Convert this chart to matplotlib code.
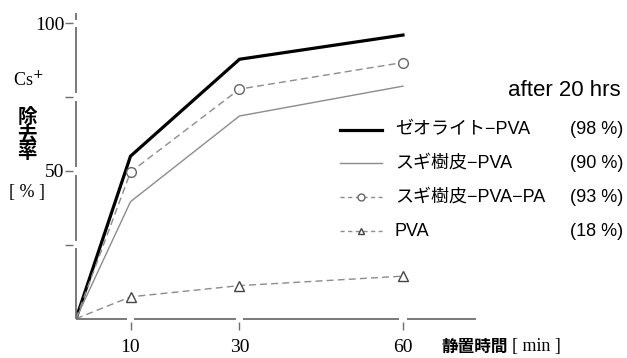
import matplotlib
matplotlib.use("Agg")
import matplotlib.pyplot as plt
from matplotlib.lines import Line2D

# ── Data ─────────────────────────────────────────────────────────────────────
minutes = [0, 10, 30, 60]
zeolite_pva = [0, 55.0, 87.8, 96.0]
sugi_pva = [0, 39.6, 68.6, 78.7]
sugi_pva_pa = [0, 49.6, 77.7, 86.7]
pva = [0, 7.4, 11.2, 14.4]

series_names = ["ゼオライト−PVA", "スギ樹皮−PVA", "スギ樹皮−PVA−PA", "PVA"]
after_20h = [98, 90, 93, 18]

x_ticks = [10, 30, 60]
y_ticks = [25, 50, 75, 100]
y_tick_labels = ["", "50", "", "100"]

# ── Layout (pixels) ──────────────────────────────────────────────────────────
W, H, DPI = 627, 358, 100
X0, Y0 = 76, 318.7          # axis origin
PX_PER_MIN = 5.45
PX_PER_PCT = 2.955
X_MAX = 73.4
Y_MAX = 103.4

SERIF = "Liberation Serif"
SANS = ["Liberation Sans", "Noto Sans CJK JP"]
CJK = "Noto Sans CJK JP"
AXIS_GRAY = "#6e6e6e"
LINE_GRAY = "#8c8c8c"


def fpos(x, y):
    """pixel position -> figure fraction"""
    return x / W, 1 - y / H


fig = plt.figure(figsize=(W / DPI, H / DPI), dpi=DPI)
ax = fig.add_axes([X0 / W, (H - Y0) / H,
                   X_MAX * PX_PER_MIN / W, Y_MAX * PX_PER_PCT / H])
ax.set_xlim(0, X_MAX)
ax.set_ylim(0, Y_MAX)

# curves
ax.plot(minutes, zeolite_pva, color="black", lw=2.3, solid_joinstyle="miter")
ax.plot(minutes, sugi_pva, color=LINE_GRAY, lw=1.0)
ax.plot(minutes, sugi_pva_pa, color=LINE_GRAY, lw=1.0, ls=(0, (5, 3)),
        marker="o", markevery=[1, 2, 3], ms=7, mfc="white", mec="#666666", mew=1.0)
ax.plot(minutes, pva, color=LINE_GRAY, lw=1.0, ls=(0, (5, 3)),
        marker="^", markevery=[1, 2, 3], ms=7, mfc="white", mec="#444444", mew=1.0)

# broken axis lines: gaps where ticks sit
for s in ax.spines.values():
    s.set_visible(False)
ax.spines["left"].set_position(("outward", 2.5))
ax.spines["bottom"].set_position(("outward", 2.5))

gx = 3.6 / PX_PER_MIN
gy = 3.6 / PX_PER_PCT
xs = [0] + [v for t in x_ticks for v in (t - gx, t + gx)] + [X_MAX]
for a, b in zip(xs[0::2], xs[1::2]):
    ax.plot([a, b], [0, 0], color=AXIS_GRAY, lw=1.3, clip_on=False,
            solid_capstyle="butt")
ys = [0] + [v for t in y_ticks for v in (t - gy, t + gy)] + [Y_MAX]
for a, b in zip(ys[0::2], ys[1::2]):
    ax.plot([0, 0], [a, b], color=AXIS_GRAY, lw=1.3, clip_on=False,
            solid_capstyle="butt")

ax.set_xticks(x_ticks)
ax.set_xticklabels([str(t) for t in x_ticks], fontfamily=SERIF, fontsize=14)
ax.set_yticks(y_ticks)
ax.set_yticklabels(y_tick_labels, fontfamily=SERIF, fontsize=14)
ax.tick_params(axis="x", direction="out", length=5.8, width=1.0,
               color=AXIS_GRAY, pad=6.5)
ax.tick_params(axis="y", direction="out", length=5.5, width=1.0,
               color=AXIS_GRAY, pad=0.5)

# y-axis caption
fig.text(*fpos(28, 80), "Cs$^{+}$", fontfamily=SERIF, fontsize=13,
         ha="center", va="center")
fig.text(*fpos(27, 135), "除\n去\n率", fontfamily=CJK, fontsize=14,
         fontweight="bold", ha="center", va="center", linespacing=0.92)
fig.text(*fpos(27, 192), "[ % ]", fontfamily=SERIF, fontsize=13,
         ha="center", va="center")

# x-axis caption
fig.text(*fpos(441, 347), "静置時間", fontfamily=CJK, fontsize=12,
         fontweight="bold", ha="left", va="center")
fig.text(*fpos(512, 347), "[ min ]", fontfamily=SERIF, fontsize=13,
         ha="left", va="center")

# legend
fig.text(*fpos(621, 91), "after 20 hrs", fontfamily=SANS, fontsize=16,
         ha="right", va="center")
row_y = [130, 163, 197, 231]
styles = [
    dict(color="black", lw=2.3),
    dict(color=LINE_GRAY, lw=1.0),
    dict(color=LINE_GRAY, lw=1.0, ls=(0, (3, 2.5)), marker="o", ms=5,
         mfc="white", mec="#666666", markevery=[1]),
    dict(color=LINE_GRAY, lw=1.0, ls=(0, (3, 2.5)), marker="^", ms=5,
         mfc="white", mec="#444444", markevery=[1]),
]
for y, name, pct, st in zip(row_y, series_names, after_20h, styles):
    (xa, ya), (xm, _), (xb, _) = fpos(340, y), fpos(361, y), fpos(382, y)
    fig.add_artist(Line2D([xa, xm, xb], [ya, ya, ya],
                          transform=fig.transFigure, **st))
    fig.text(*fpos(395, y), name, fontfamily=SANS, fontsize=13,
             ha="left", va="center")
    fig.text(*fpos(623, y), f"({pct} %)", fontfamily=SANS, fontsize=13,
             ha="right", va="center")

fig.savefig("out.png", dpi=DPI)
